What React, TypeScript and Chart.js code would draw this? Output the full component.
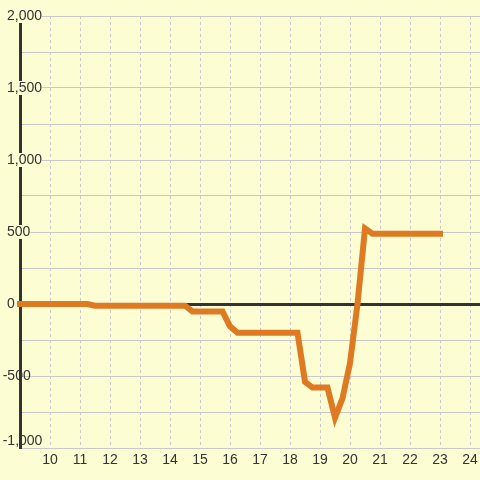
import React, { useEffect, useRef } from 'react';
import { Chart, registerables } from 'chart.js';

Chart.register(...registerables);

// Hour of day (x) and value (y) at each break point of the line
const hours = [9, 11.25, 11.5, 14.5, 14.75, 15.75, 16, 16.25, 18.25, 18.5, 18.75, 19.25, 19.5, 19.75, 20, 20.25, 20.5, 20.75, 23];
const values = [0, 0, -12, -12, -52, -52, -155, -200, -200, -540, -580, -580, -790, -655, -410, 0, 525, 488, 488];

const xMin = 9;
const xMax = 24.333;
const yMin = -1000;
const yMax = 2000;
const yStep = 250;
const yLabelStep = 500;

const BG = '#fdfdd4';
const ORANGE = '#de7a22';
const GRID = '#c8c8c8';
const DARK = '#333333';
const FONT = { size: 14, lineHeight: 1 };

const fmt = (n: number) => n.toLocaleString('en-US');

export default function App() {
  const ref = useRef<HTMLCanvasElement>(null);

  useEffect(() => {
    document.body.style.margin = '0';
    document.body.style.background = BG;
    Chart.defaults.font.family = '"Liberation Sans", Arial, sans-serif';

    const chart = new Chart(ref.current as HTMLCanvasElement, {
      type: 'line',
      data: {
        datasets: [
          {
            data: hours.map((h, i) => ({ x: h, y: values[i] })),
            xAxisID: 'x',
            yAxisID: 'y',
            borderColor: ORANGE,
            borderWidth: 6,
            pointRadius: 0,
            tension: 0,
            fill: false,
            borderCapStyle: 'square',
            borderJoinStyle: 'miter',
            clip: false as any,
          },
        ],
      },
      options: {
        animation: false,
        responsive: false,
        layout: { padding: { left: 7, top: 16, right: 0, bottom: 0 } },
        plugins: { legend: { display: false }, tooltip: { enabled: false } },
        scales: {
          x: {
            type: 'linear',
            min: xMin,
            max: xMax,
            afterFit: (s: any) => {
              s.height = 32;
              s.paddingLeft = 0;
              s.paddingRight = 0;
            },
            ticks: {
              stepSize: 1,
              includeBounds: false,
              autoSkip: false,
              maxRotation: 0,
              padding: 4,
              color: DARK,
              font: { size: 14 },
              callback: (v: any) => (Number(v) === xMin ? '' : String(v)),
            },
            grid: { color: GRID, lineWidth: 1, drawTicks: false },
            border: { display: false, dash: [3, 3] },
          },
          // main value axis: grid, zero line, axis line, non-negative labels,
          // and the label backdrops for the negative labels
          y: {
            type: 'linear',
            position: 'left',
            min: yMin,
            max: yMax,
            afterFit: (s: any) => {
              s.width = 13;
              s.paddingTop = 0;
              s.paddingBottom = 0;
            },
            ticks: {
              stepSize: yStep,
              autoSkip: false,
              mirror: true,
              crossAlign: 'near',
              padding: -13,
              color: DARK,
              font: FONT,
              showLabelBackdrop: (ctx: any) => !!ctx.tick && ctx.tick.value % yLabelStep === 0,
              backdropColor: BG,
              backdropPadding: (ctx: any) => {
                const v = ctx.tick ? ctx.tick.value : 0;
                if (v === yMin) return { left: 5, right: 36, top: 7, bottom: -6 };
                if (v < 0) return { left: 5, right: 23, top: 0, bottom: 0 };
                return { left: 1, right: 3, top: 0, bottom: 0 };
              },
              callback: (v: any) => {
                const n = Number(v);
                if (n % yLabelStep !== 0) return '';
                if (n < 0) return ' ';
                return fmt(n);
              },
            },
            grid: {
              color: (ctx: any) => (ctx.tick && ctx.tick.value === 0 ? DARK : GRID),
              lineWidth: (ctx: any) => (ctx.tick && ctx.tick.value === 0 ? 3 : 1),
              drawTicks: false,
            },
            border: { display: true, color: DARK, width: 3 },
          },
          // negative labels, left aligned with the minus sign hanging out
          yNeg: {
            type: 'linear',
            position: 'left',
            min: yMin,
            max: yMax,
            afterBuildTicks: (s: any) => {
              s.ticks = s.ticks.filter((t: any) => t.value < 0 && t.value % yLabelStep === 0);
            },
            afterFit: (s: any) => {
              s.width = 0;
              s.paddingTop = 0;
              s.paddingBottom = 0;
            },
            ticks: {
              stepSize: yLabelStep,
              autoSkip: false,
              mirror: true,
              crossAlign: 'near',
              padding: -4.3,
              color: DARK,
              font: FONT,
              callback: (v: any) => {
                const n = Number(v);
                return n === yMin ? [fmt(n), ''] : fmt(n);
              },
            },
            grid: { display: false, drawTicks: false },
            border: { display: false },
          },
        },
      } as any,
    });
    return () => chart.destroy();
  }, []);

  return (
    <div style={{ width: 480, height: 480, background: BG }}>
      <canvas ref={ref} width={480} height={480} style={{ display: 'block' }} />
    </div>
  );
}
